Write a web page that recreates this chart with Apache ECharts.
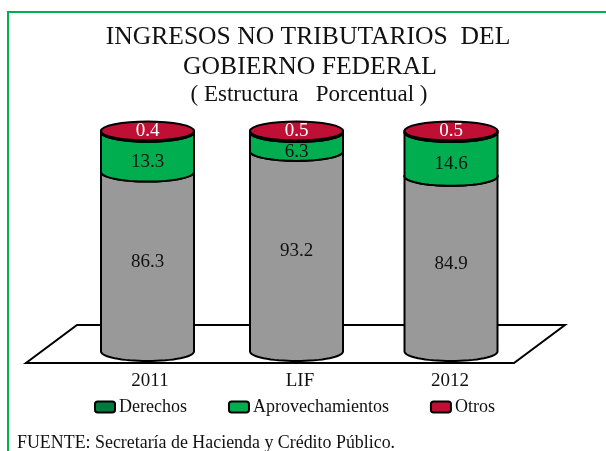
<!DOCTYPE html>
<html lang="es">
<head>
  <meta charset="UTF-8">
  <title>Ingresos no tributarios</title>
  <script src="https://cdn.jsdelivr.net/npm/echarts@6/dist/echarts.min.js"></script>
  <style>
    html, body { margin: 0; padding: 0; background: #fff; overflow: hidden; }
  </style>
</head>
<body>
<div id="main" style="width: 606px;height:451px;"></div>
<script type="text/javascript">
  const categories = ['2011', 'LIF', '2012'];
  const derechos = [];
  const otros = [0.4, 0.5, 0.5];
  const aprovechamientos = [13.3, 6.3, 14.6];
  const resto = [86.3, 93.2, 84.9];

  const serif = '"Liberation Serif", serif';
  const axisMin = 26.5;
  var myChart = echarts.init(document.getElementById('main'));

  // the cylinders do not sit quite on the centre of each band in the original
  const nudge = [-2.5, -3.5, 1];
  const rx = 46.5, ry = 9.5;

  function cylinder(labelColor, labelShift, flatTop) {
    return function (params, api) {
      const i = api.value(0);
      const c = api.coord([i, api.value(1)]);
      const top = api.coord([i, api.value(2)]);
      const x = c[0] + nudge[i];
      const y0 = c[1], y1 = top[1];
      const fill = api.visual('color');
      const pts = [[x - rx, y1]];
      for (let a = 0; a <= 32; a++) {
        const t = Math.PI - a / 32 * Math.PI;
        pts.push([x + rx * Math.cos(t), y0 + ry * Math.sin(t)]);
      }
      pts.push([x + rx, y1]);
      const style = { fill: fill, stroke: '#000', lineWidth: 2 };
      const children = [
        { type: 'polygon', shape: { points: pts }, style: style },
        { type: 'ellipse', shape: { cx: x, cy: y1, rx: rx, ry: ry }, style: style },
        {
          type: 'text',
          style: {
            text: api.value(3).toFixed(1),
            x: x, y: (flatTop ? y1 : (y0 + y1) / 2) + labelShift,
            align: 'center', verticalAlign: 'middle',
            fill: labelColor, font: '19px ' + serif
          }
        }
      ];
      return { type: 'group', children: children };
    };
  }

  // each row: category index, where the segment starts, where it ends, its value
  const restoRows = resto.map((v, i) => [i, axisMin, v, v]);
  const aprovRows = aprovechamientos.map((v, i) => [i, resto[i], resto[i] + v, v]);
  const otrosRows = otros.map((v, i) => [i, resto[i] + aprovechamientos[i], resto[i] + aprovechamientos[i] + v, v]);

  function series(name, color, data, render) {
    return {
      name: name, type: 'custom', data: data, renderItem: render, clip: false,
      itemStyle: { color: color, borderColor: '#000', borderWidth: 2 },
      encode: { x: 0, y: [1, 2] }, silent: true, animation: false
    };
  }

  myChart.setOption({
    animation: false,
    backgroundColor: '#fff',
    title: [
      { text: 'INGRESOS NO TRIBUTARIOS  DEL', left: 303, top: 19, textAlign: 'center',
        textStyle: { fontFamily: serif, fontWeight: 'normal', fontSize: 25.6, color: '#111' } },
      { text: 'GOBIERNO FEDERAL', left: 305, top: 49, textAlign: 'center',
        textStyle: { fontFamily: serif, fontWeight: 'normal', fontSize: 25.6, color: '#111' } },
      { text: '( Estructura   Porcentual )', left: 304, top: 78, textAlign: 'center',
        textStyle: { fontFamily: serif, fontWeight: 'normal', fontSize: 23, color: '#111' } }
    ],
    grid: { left: 75, right: 81, top: 131, bottom: 99.5 },
    xAxis: {
      type: 'category', data: categories,
      axisLine: { show: false }, axisTick: { show: false },
      axisLabel: { fontFamily: serif, fontSize: 19, color: '#111', margin: 20 }
    },
    yAxis: { type: 'value', min: axisMin, max: 100, show: false, splitLine: { show: false } },
    legend: {
      left: 89, top: 393, itemWidth: 20, itemHeight: 11, itemGap: 41,
      textStyle: { fontFamily: serif, fontSize: 18, color: '#111', padding: [0, 0, 0, -1] },
      data: ['Derechos', 'Aprovechamientos', 'Otros'],
      selectedMode: false
    },
    graphic: [
      { type: 'polyline', silent: true, z: -1,
        shape: { points: [[8, 460], [8, 12], [610, 12]] },
        style: { fill: null, stroke: '#00B050', lineWidth: 2 } },
      { type: 'polygon', silent: true, z: -1,
        shape: { points: [[77, 325], [565, 325], [514, 363], [26, 363]] },
        style: { fill: '#fff', stroke: '#000', lineWidth: 2 } },
      { type: 'text', silent: true, left: 17, top: 434,
        style: { text: 'FUENTE: Secretaría de Hacienda y Crédito Público.',
          font: '17.9px ' + serif, fill: '#111' } }
    ],
    series: [
      series('Derechos', '#007A3D', derechos, cylinder('#111', 0, false)),
      series('resto', '#999999', restoRows, cylinder('#111', 0, false)),
      series('Aprovechamientos', '#00AE50', aprovRows, cylinder('#111', 10, false)),
      series('Otros', '#C00F35', otrosRows, cylinder('#fff', 0, true))
    ]
  });
</script>
</body>
</html>
